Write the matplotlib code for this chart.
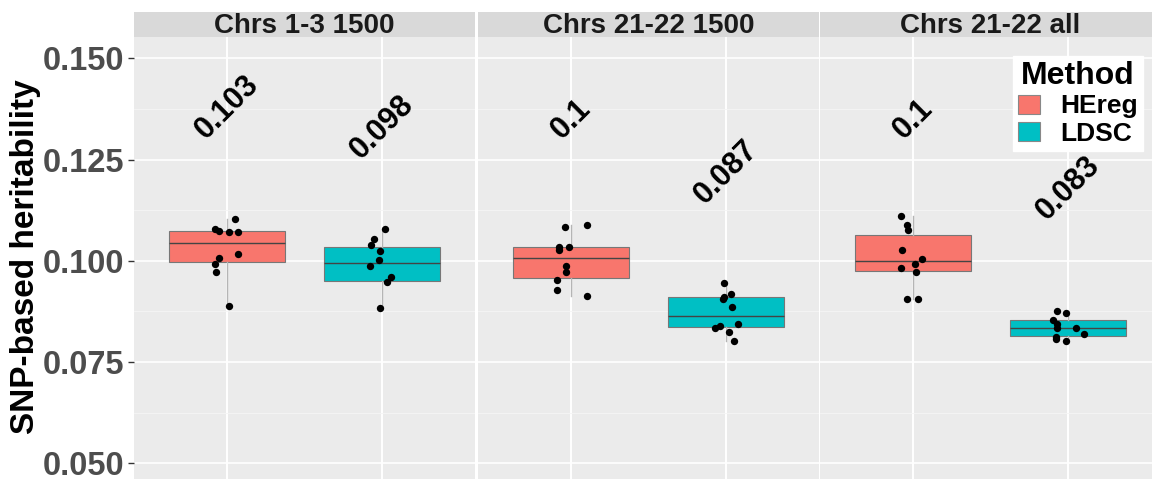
import numpy as np
import matplotlib
matplotlib.use("Agg")
import matplotlib.pyplot as plt
from matplotlib.patches import Patch

plt.rcParams['font.family'] = ['Liberation Sans', 'DejaVu Sans']

# facets and methods
panels = ['Chrs 1-3 1500', 'Chrs 21-22 1500', 'Chrs 21-22 all']
methods = ['HEreg', 'LDSC']
colors = ['#F8766D', '#00BFC4']

# per-replicate estimates, and the jitter seen for each point
he_13 = [0.1104, 0.1078, 0.1073, 0.1071, 0.1070, 0.1017, 0.1007, 0.0992, 0.0972, 0.0888]
he_13_jit = [0.05, -0.08, -0.05, 0.01, 0.07, 0.07, -0.05, -0.08, -0.07, 0.01]
ld_13 = [0.1078, 0.1053, 0.1039, 0.1025, 0.1002, 0.0986, 0.0961, 0.0947, 0.0883]
ld_13_jit = [0.02, -0.05, -0.07, -0.01, -0.02, -0.08, 0.06, 0.03, -0.01]

he_2122 = [0.1084, 0.1088, 0.1035, 0.1027, 0.1033, 0.0988, 0.0972, 0.0952, 0.0928, 0.0912]
he_2122_jit = [-0.04, 0.10, -0.08, -0.08, -0.01, -0.03, -0.03, -0.09, -0.09, 0.10]
ld_2122 = [0.0944, 0.0919, 0.0911, 0.0906, 0.0886, 0.0844, 0.0839, 0.0835, 0.0824, 0.0801]
ld_2122_jit = [-0.01, 0.03, -0.01, -0.02, 0.04, 0.08, -0.04, -0.07, 0.02, 0.05]

he_all = [0.1111, 0.1088, 0.1077, 0.1026, 0.1005, 0.0991, 0.0983, 0.0972, 0.0905, 0.0906]
he_all_jit = [-0.08, -0.04, -0.03, -0.07, 0.06, 0.01, -0.08, 0.02, -0.04, 0.03]
ld_all = [0.0876, 0.0870, 0.0854, 0.0844, 0.0835, 0.0833, 0.0819, 0.0813, 0.0807, 0.0801]
ld_all_jit = [-0.07, -0.01, -0.10, -0.07, 0.05, -0.07, 0.10, -0.08, -0.08, -0.01]

points = [[he_13, ld_13], [he_2122, ld_2122], [he_all, ld_all]]
jitter = [[he_13_jit, ld_13_jit], [he_2122_jit, ld_2122_jit], [he_all_jit, ld_all_jit]]

# box summaries as drawn: q1, median, q3, lower whisker, upper whisker
q1 = [[0.0996, 0.0950], [0.0957, 0.0836], [0.0975, 0.0814]]
med = [[0.1043, 0.0994], [0.1007, 0.0864], [0.0999, 0.0833]]
q3 = [[0.1073, 0.1035], [0.1034, 0.0910], [0.1064, 0.0853]]
wlo = [[0.0888, 0.0883], [0.0912, 0.0801], [0.0905, 0.0801]]
whi = [[0.1104, 0.1078], [0.1088, 0.0944], [0.1111, 0.0876]]

# mean labels
mean_labels = [['0.103', '0.098'], ['0.1', '0.087'], ['0.1', '0.083']]
label_offset = 0.035

yticks = [0.050, 0.075, 0.100, 0.125, 0.150]

W, H = 1152, 479
fig = plt.figure(figsize=(W / 100, H / 100), dpi=100)

lefts = [134, 478, 820]
pw = 341
top_px, strip_px = 37, 25

for i, name in enumerate(panels):
    ax = fig.add_axes([lefts[i] / W, 0, pw / W, 1 - top_px / H])
    ax.set_facecolor('#EBEBEB')
    for s in ax.spines.values():
        s.set_visible(False)
    ax.set_xlim(0.4, 2.6)
    ax.set_ylim(0.0461, 0.1553)
    ax.set_yticks(yticks)
    ax.set_yticks([0.0625, 0.0875, 0.1125, 0.1375], minor=True)
    ax.set_xticks([1, 2])
    ax.grid(which='major', color='white', lw=1.2)
    ax.grid(which='minor', axis='y', color='#F5F5F5', lw=0.6)
    ax.set_axisbelow(True)
    ax.tick_params(axis='x', length=0, labelbottom=False)
    ax.tick_params(axis='y', which='minor', length=0)
    if i == 0:
        ax.set_yticklabels(['%.3f' % t for t in yticks])
        ax.tick_params(axis='y', length=4, width=1, color='#333333', pad=3,
                       labelsize=23.5, labelcolor='#4D4D4D')
        for lab in ax.get_yticklabels():
            lab.set_fontweight('bold')
    else:
        ax.tick_params(axis='y', length=0, labelleft=False)

    stats = []
    for j in range(2):
        stats.append(dict(med=med[i][j], q1=q1[i][j], q3=q3[i][j],
                          whislo=wlo[i][j], whishi=whi[i][j], fliers=[]))
    bp = ax.bxp(stats, positions=[1, 2], widths=0.75, patch_artist=True,
                showcaps=False, showfliers=False,
                boxprops=dict(edgecolor='#777777', linewidth=0.8),
                whiskerprops=dict(color='#B5B5B5', linewidth=1.0),
                medianprops=dict(color='#444444', linewidth=1.0))
    for patch, c in zip(bp['boxes'], colors):
        patch.set_facecolor(c)

    for j in range(2):
        xs = np.array(jitter[i][j]) + (j + 1)
        ax.scatter(xs, points[i][j], s=28, color='black', zorder=5, linewidths=0)
        ax.text(j + 1, float(mean_labels[i][j]) + label_offset, mean_labels[i][j],
                rotation=45, ha='center', va='center', fontsize=22,
                fontweight='bold', color='black')

    # facet strip
    sax = fig.add_axes([lefts[i] / W, 1 - top_px / H, pw / W, strip_px / H])
    sax.set_facecolor('#D9D9D9')
    sax.set_xticks([])
    sax.set_yticks([])
    for s in sax.spines.values():
        s.set_visible(False)
    sax.text(0.5, 0.45, name, transform=sax.transAxes, ha='center', va='center',
             fontsize=20, fontweight='bold', color='#1A1A1A')

    if i == 2:
        handles = [Patch(facecolor=c, edgecolor='#888888', linewidth=0.8) for c in colors]
        leg = ax.legend(handles, methods, loc='upper right',
                        bbox_to_anchor=(0.947, 0.957), title='Method',
                        prop={'weight': 'bold', 'size': 19},
                        title_fontproperties={'weight': 'bold', 'size': 23},
                        frameon=True, fancybox=False, handlelength=0.85,
                        handleheight=0.75, labelspacing=0.12, borderpad=0.2,
                        handletextpad=0.75, borderaxespad=0)
        leg.get_frame().set_facecolor('white')
        leg.get_frame().set_edgecolor('white')
        leg.get_frame().set_alpha(1)

fig.text(26 / W, 0.4645, 'SNP-based heritability', rotation=90, ha='center',
         va='center', fontsize=24, fontweight='bold', color='black')

fig.savefig('out.png', dpi=100, facecolor='white')
